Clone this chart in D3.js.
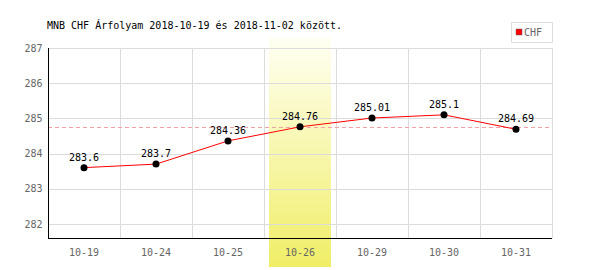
<!DOCTYPE html>
<meta charset="UTF-8">
<script src="https://cdnjs.cloudflare.com/ajax/libs/d3/7.4.4/d3.min.js"></script>
<style>
  body { margin: 0; background: #fff; }
  text { font-family: "DejaVu Sans Mono", monospace; font-size: 10px; }
</style>
<svg id="chart" width="600" height="270"></svg>
<script>
    // data
    let dates = ["10-19", "10-24", "10-25", "10-26", "10-29", "10-30", "10-31"];
    let rates = [283.6, 283.7, 284.36, 284.76, 285.01, 285.1, 284.69];
    let yTicks = [282, 283, 284, 285, 286, 287];
    let refLine = 284.75;
    let highlight = "10-26";

    let svg = d3.select("svg");
    let plotL = 48, plotR = 552, plotT = 48, plotB = 238;

    let x = d3.scaleBand().domain(dates).range([plotL, plotR]);
    let y = d3.scaleLinear().domain([281.6, 287]).range([plotB, plotT]);

    let defs = svg.append("defs");
    let grad = defs.append("linearGradient")
        .attr("id", "hl").attr("x1", 0).attr("y1", 0).attr("x2", 0).attr("y2", 1);
    grad.append("stop").attr("offset", "0%").attr("stop-color", "#fffff4");
    grad.append("stop").attr("offset", "100%").attr("stop-color", "#f0ee66");

    // highlighted day
    svg.append("rect")
        .attr("x", x(highlight) + 5)
        .attr("width", x.bandwidth() - 10)
        .attr("y", 37)
        .attr("height", 230)
        .style("fill", "url(#hl)");

    // grid
    svg.append("g").selectAll("line")
        .data(yTicks)
        .enter().append("line")
        .attr("x1", plotL).attr("x2", plotR)
        .attr("y1", d => Math.round(y(d)) + 0.5)
        .attr("y2", d => Math.round(y(d)) + 0.5)
        .style("stroke", "#dcdcdc");
    svg.append("g").selectAll("line")
        .data(dates)
        .enter().append("line")
        .attr("x1", d => x(d) + x.bandwidth() + 0.5)
        .attr("x2", d => x(d) + x.bandwidth() + 0.5)
        .attr("y1", plotT).attr("y2", plotB)
        .style("stroke", "#dcdcdc");

    // reference line
    svg.append("line")
        .attr("x1", plotL).attr("x2", plotR - 2)
        .attr("y1", Math.round(y(refLine)) + 0.5)
        .attr("y2", Math.round(y(refLine)) + 0.5)
        .style("stroke", "#f4a0a8")
        .style("stroke-dasharray", "4,3");

    // axes
    let yAxis = svg.append("g")
        .attr("transform", "translate(" + (plotL + 0.5) + ",0)")
        .call(d3.axisLeft(y).tickValues(yTicks).tickSize(0).tickPadding(6).tickFormat(d3.format("d")));
    yAxis.select(".domain").attr("d", "M0," + plotT + "V" + plotB).style("stroke", "#000");
    yAxis.selectAll("text").style("fill", "#666").style("font-size", "10px")
        .style("font-family", "'DejaVu Sans Mono', monospace");

    let xAxis = svg.append("g")
        .attr("transform", "translate(0," + (plotB + 0.5) + ")")
        .call(d3.axisBottom(x).tickSize(0).tickPadding(10));
    xAxis.select(".domain").attr("d", "M" + plotL + ",0H" + plotR).style("stroke", "#000");
    xAxis.selectAll("text").style("fill", "#666").style("font-size", "10px")
        .style("font-family", "'DejaVu Sans Mono', monospace");

    // series
    let cx = d => x(d) + x.bandwidth() / 2;
    let line = d3.line()
        .x((d, i) => cx(dates[i]))
        .y(d => y(d));
    svg.append("path")
        .datum(rates)
        .attr("d", line)
        .style("fill", "none")
        .style("stroke", "#f00")
        .style("stroke-width", 1);

    svg.append("g").selectAll("circle")
        .data(rates)
        .enter().append("circle")
        .attr("cx", (d, i) => cx(dates[i]))
        .attr("cy", d => y(d))
        .attr("r", 3.5)
        .style("fill", "#000");

    svg.append("g").selectAll("text")
        .data(rates)
        .enter().append("text")
        .attr("x", (d, i) => cx(dates[i]))
        .attr("y", d => y(d) - 7)
        .style("text-anchor", "middle")
        .style("fill", "#000")
        .text(d => d);

    // title
    svg.append("text")
        .attr("x", 47).attr("y", 29)
        .style("fill", "#000")
        .text("MNB CHF Árfolyam 2018-10-19 és 2018-11-02 között.");

    // legend
    let legend = svg.append("g");
    legend.append("rect")
        .attr("x", 511.5).attr("y", 22.5).attr("width", 41).attr("height", 20)
        .style("fill", "#fff").style("stroke", "#ddd");
    legend.append("rect")
        .attr("x", 516).attr("y", 29).attr("width", 6).attr("height", 6)
        .style("fill", "#f00").style("stroke", "#666").style("stroke-width", 0.5);
    legend.append("text")
        .attr("x", 524).attr("y", 36)
        .style("fill", "#666")
        .text("CHF");
</script>
